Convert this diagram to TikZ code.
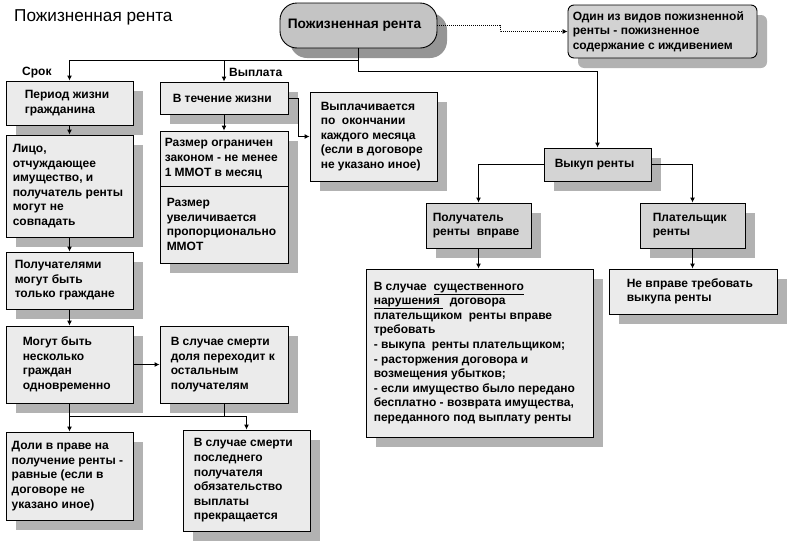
\documentclass[tikz,border=0pt]{standalone}
\usepackage{fontspec}
\setmainfont{Liberation Sans}
\usetikzlibrary{shadows,arrows.meta}
\definecolor{lbox}{HTML}{EBEBEB}
\definecolor{dbox}{HTML}{D4D4D4}
\definecolor{shd}{HTML}{B2B2B2}
\definecolor{topfill}{HTML}{C4C4C4}
\definecolor{topshd}{HTML}{959595}
\definecolor{notefill}{HTML}{D2D2D2}
\tikzset{
  base/.style={draw, line width=0.9pt, inner sep=0pt,
    drop shadow={shadow xshift=10pt, shadow yshift=-10pt, fill=shd, opacity=1}},
  bx/.style={base, fill=lbox},
  bxd/.style={base, fill=dbox},
  txt/.style={inner sep=0pt, align=left, anchor=west,
    font=\bfseries\fontsize{12}{14.6}\selectfont},
  lbl/.style={inner sep=0pt, font=\bfseries\fontsize{12}{13}\selectfont},
  conn/.style={line width=0.9pt},
  arr/.style={line width=0.9pt, -{Latex[length=5pt,width=5pt]}},
}
\newcommand\bxnode[8]{%
  \node[#2, minimum width={(#5-#3)*1pt}, minimum height={(#6-#4)*1pt}] (#1)
    at ({(#3+#5)/2},{(#4+#6)/2}) {};
  \node[txt] (#1-t) at ([xshift=#7pt]#1.west) {#8};}
\begin{document}
\begin{tikzpicture}[x=1pt,y=-1pt]
\useasboundingbox (0,0) rectangle (800,544);

% title
\node[inner sep=0pt, anchor=west, font=\fontsize{17.2}{19}\selectfont] (title) at (14,17) {Пожизненная рента};

% top node
\node[draw, line width=0.9pt, fill=topfill, rounded corners=17pt, inner sep=0pt,
  minimum width=157pt, minimum height=45pt,
  drop shadow={shadow xshift=10pt, shadow yshift=-10pt, fill=topshd, opacity=1}] (ptop) at (358.5,25.5) {};
\node[inner sep=0pt, font=\bfseries\fontsize{13.7}{15}\selectfont] (ptop-t) at ([xshift=-4pt]ptop.center) {Пожизненная рента};

% note node
\node[draw, line width=0.9pt, fill=notefill, rounded corners=6pt, inner sep=0pt,
  minimum width=189pt, minimum height=53pt,
  drop shadow={shadow xshift=10pt, shadow yshift=-10pt, fill=shd, opacity=1}] (pnote) at (662.5,31.5) {};
\node[txt] (pnote-t) at ([xshift=5pt]pnote.west) {Один из видов пожизненной\\ренты - пожизненное\\содержание с иждивением};

\draw[line width=0.8pt, dash pattern=on 1pt off 1pt, -{Latex[length=5pt,width=5pt]}] (ptop.east) -- ++(63,0) |- (pnote.west);

% left column
\bxnode{period}{bx}{6}{81}{133}{125}{19}{Период жизни\\гражданина}
\bxnode{lico}{bx}{6}{135}{133}{237}{7}{Лицо,\\отчуждающее\\имущество, и\\получатель ренты\\могут не\\совпадать}
\bxnode{poluch}{bx}{6}{252}{133}{309}{9}{Получателями\\могут быть\\только граждане}
\bxnode{mogut}{bx}{6}{326}{133}{403}{17}{Могут быть\\несколько\\граждан\\одновременно}
\bxnode{doli}{bx}{6}{432}{133}{520}{6}{Доли в праве на\\получение ренты -\\равные (если в\\договоре не\\указано иное)}

% middle column
\bxnode{vtech}{bx}{160}{82}{288}{114}{13}{В течение жизни}
\bxnode{razm1}{bx}{160}{131}{288}{186}{5}{Размер ограничен\\законом - не менее\\1 ММОТ в месяц}
\bxnode{razm2}{bx}{160}{186}{288}{263}{7}{Размер\\увеличивается\\пропорционально\\ММОТ}
\bxnode{vypl}{bx}{310}{92}{437}{181}{11}{Выплачивается\\по\ \ окончании\\каждого месяца\\(если в договоре\\не указано иное)}
\bxnode{dolya}{bx}{160}{326}{288}{403}{11}{В случае смерти\\доля переходит к\\остальным\\получателям}
\bxnode{posled}{bx}{183}{430}{310}{531}{11}{В случае смерти\\последнего\\получателя\\обязательство\\выплаты\\прекращается}

% right side
\bxnode{vykup}{bxd}{544}{148}{651}{181}{11}{Выкуп ренты}
\bxnode{polv}{bxd}{426}{203}{531}{248}{7}{Получатель\\ренты\ \ вправе}
\bxnode{plat}{bxd}{640}{203}{745}{248}{13}{Плательщик\\ренты}
\bxnode{big}{bx}{366}{269}{593}{437}{8}{В случае \ \underline{существенного}\\\underline{нарушения\ }\ \ договора\\плательщиком\ \ ренты вправе\\требовать\\- выкупа\ \ ренты плательщиком;\\- расторжения договора и\\возмещения убытков;\\- если имущество было передано\\бесплатно - возврата имущества,\\переданного под выплату ренты}
\bxnode{nevp}{bx}{609}{269}{777}{314}{18}{Не вправе требовать\\выкупа ренты}

% labels
\node[lbl, anchor=west] (lsrok) at (22,73) {Срок};
\node[lbl, anchor=west] (lvypl) at (229,72) {Выплата};

% connectors from top
\coordinate (j1) at ([yshift=-12pt]ptop.south);
\coordinate (j2) at ([yshift=-23pt]ptop.south);
\draw[conn] (j1 -| period.north) -- (j1);
\draw[arr] (j1 -| period.north) -- (period.north);
\draw[arr] (j1 -| vtech.north) -- (vtech.north);
\draw[arr] (ptop.south) -- (j2) -| (vykup.north);

% left column chain
\draw[arr] (period.south) -- (lico.north);
\draw[arr] (lico.south) -- (poluch.north);
\draw[arr] (poluch.south) -- (mogut.north);
\draw[arr] (mogut.east) -- (dolya.west);
\coordinate (j3) at ([yshift=-13pt]mogut.south);
\draw[conn] (mogut.south) -- (j3);
\draw[arr] (j3) -- (doli.north);
\draw[arr] (j3) -| (posled.north);
\draw[conn] (dolya.south) -- (dolya.south |- j3);

% middle column
\draw[arr] (vtech.south) -- (razm1.north);
\draw[arr] (vtech.east) -- ++(10,0) |- (vypl.west);

% right side
\draw[arr] (vykup.west) -| (polv.north);
\draw[arr] (vykup.east) -| (plat.north);
\draw[arr] (polv.south) -- (polv.south |- big.north);
\draw[arr] (plat.south) -- (plat.south |- nevp.north);
\end{tikzpicture}
\end{document}
